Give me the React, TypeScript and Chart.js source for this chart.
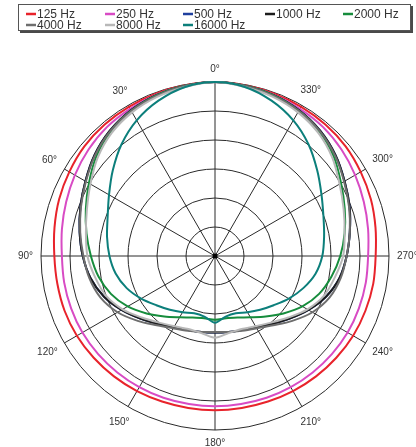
import React, { useEffect, useRef } from 'react';
import { Chart, registerables } from 'chart.js';

Chart.register(...registerables);

// Measurement angles (degrees, counter-clockwise from the top, as labelled)
const ANGLES = [0, 10, 20, 30, 40, 50, 60, 70, 80, 90, 100, 110, 120, 130, 140, 150, 160, 170,
  180, 190, 200, 210, 220, 230, 240, 250, 260, 270, 280, 290, 300, 310, 320, 330, 340, 350];

const SERIES_NAMES = ['125 Hz', '250 Hz', '500 Hz', '1000 Hz', '2000 Hz', '4000 Hz', '8000 Hz', '16000 Hz'];

// Levels in dB relative to on-axis (0 dB = outer ring, -30 dB = centre)
const HZ_125 = [0, -0.1, -0.2, -0.3, -0.4, -0.6, -1.0, -1.4, -1.9, -2.3, -2.4, -2.4, -2.5, -2.7, -2.9, -3.1, -3.3, -3.4,
  -3.4, -3.4, -3.3, -3.1, -2.9, -2.7, -2.5, -2.4, -2.3, -2.3, -1.9, -1.4, -1.0, -0.6, -0.4, -0.3, -0.2, -0.1];
const HZ_250 = [0, -0.2, -0.4, -0.7, -1.0, -1.5, -2.1, -2.7, -3.2, -3.6, -3.6, -3.6, -3.6, -3.7, -3.8, -3.9, -4.0, -4.1,
  -4.1, -4.1, -4.0, -3.9, -3.8, -3.7, -3.6, -3.6, -3.6, -3.6, -3.2, -2.7, -2.1, -1.5, -1.0, -0.7, -0.4, -0.2];
const HZ_500 = [0, -0.2, -0.5, -1.0, -1.8, -2.9, -4.2, -5.3, -6.3, -7.2, -8.2, -9.6, -11.4, -13.2, -14.7, -15.8, -16.4, -16.7,
  -16.8, -16.7, -16.4, -15.8, -14.7, -13.2, -11.4, -9.6, -8.2, -7.3, -6.4, -5.3, -4.2, -2.9, -1.8, -1.0, -0.5, -0.2];
const HZ_1000 = [0, -0.2, -0.5, -1.0, -1.8, -2.9, -4.2, -5.3, -6.3, -7.2, -8.2, -9.6, -11.4, -13.2, -14.7, -15.8, -16.4, -16.7,
  -16.8, -16.7, -16.4, -15.8, -14.7, -13.2, -11.4, -9.6, -8.2, -7.3, -6.4, -5.3, -4.2, -2.9, -1.8, -1.0, -0.5, -0.2];
const HZ_2000 = [0, -0.2, -0.5, -1.1, -2.0, -3.3, -4.9, -6.3, -7.5, -8.6, -9.6, -10.9, -12.6, -14.6, -16.4, -17.8, -18.7, -19.1,
  -19.0, -19.1, -18.7, -17.8, -16.4, -14.6, -12.6, -10.9, -9.6, -8.4, -7.3, -6.2, -4.9, -3.3, -2.0, -1.1, -0.5, -0.2];
const HZ_4000 = [0, -0.2, -0.6, -1.1, -1.9, -3.0, -4.3, -5.4, -6.4, -7.3, -8.0, -9.0, -10.6, -12.6, -14.4, -15.6, -16.3, -16.7,
  -16.9, -16.7, -16.3, -15.6, -14.4, -12.6, -10.6, -9.0, -8.0, -7.3, -6.4, -5.4, -4.3, -3.0, -1.9, -1.1, -0.6, -0.2];
const HZ_8000 = [0, -0.4, -0.8, -1.4, -2.3, -3.6, -5.2, -6.5, -7.4, -8.0, -9.0, -10.0, -11.6, -13.5, -15.0, -16.0, -16.6, -16.5,
  -15.9, -16.5, -16.6, -16.0, -15.0, -13.5, -11.6, -10.0, -9.0, -7.9, -7.3, -6.4, -5.2, -3.6, -2.3, -1.4, -0.8, -0.4];
const HZ_16000 = [0, -0.4, -1.5, -3.0, -4.9, -7.0, -8.9, -10.3, -11.1, -11.8, -12.6, -13.8, -15.3, -16.8, -17.9, -18.8, -19.5, -19.4,
  -18.5, -19.4, -19.5, -18.8, -17.9, -16.8, -15.3, -13.8, -12.4, -11.5, -10.9, -10.1, -8.8, -7.0, -4.9, -3.0, -1.5, -0.4];

const SERIES_VALUES = [HZ_125, HZ_250, HZ_500, HZ_1000, HZ_2000, HZ_4000, HZ_8000, HZ_16000];
const SERIES_COLORS = ['#e8232b', '#d84bc4', '#1f3f9e', '#1c1c1c', '#168c3c', '#6e6e6e', '#b8b8b8', '#0c7f7b'];

const SCALE_MIN = -30;
const SCALE_MAX = 0;
const SCALE_STEP = 5;
const LABEL_EVERY = 30;

// Chart.js radar runs clockwise; the reference labels run counter-clockwise.
const N = ANGLES.length;
const DISPLAY_ANGLES = ANGLES.map((_, i) => ANGLES[(N - i) % N]);
const toDisplay = (vals: number[]) => ANGLES.map((_, i) => vals[(N - i) % N]);
const LABELS = DISPLAY_ANGLES.map((a) => (a % LABEL_EVERY === 0 ? `${a}°` : ''));

const FONT = '"Liberation Sans", Arial, Helvetica, sans-serif';

const legendPlugin = {
  id: 'boxLegend',
  afterDraw(chart: any) {
    const ctx = chart.ctx as CanvasRenderingContext2D;
    ctx.save();
    const bx = 18, by = 4, bw = 393, bh = 27;
    ctx.fillStyle = '#4a4a4a';
    ctx.fillRect(bx + 2, by + 2, bw, bh);
    ctx.fillStyle = '#ffffff';
    ctx.fillRect(bx, by, bw, bh);
    ctx.strokeStyle = '#555';
    ctx.lineWidth = 1;
    ctx.strokeRect(bx + 0.5, by + 0.5, bw - 1, bh - 1);
    const cols = [26, 105, 183, 265, 343];
    const rows = [14, 25];
    ctx.font = `12px ${FONT}`;
    ctx.textBaseline = 'middle';
    ctx.textAlign = 'left';
    SERIES_NAMES.forEach((name, i) => {
      const x = cols[i % 5];
      const y = rows[Math.floor(i / 5)];
      ctx.strokeStyle = SERIES_COLORS[i];
      ctx.lineWidth = 2.5;
      ctx.beginPath();
      ctx.moveTo(x, y);
      ctx.lineTo(x + 10, y);
      ctx.stroke();
      ctx.fillStyle = '#333';
      ctx.fillText(name, x + 11, y + 0.5);
    });
    ctx.restore();
  },
};

const angleLabelPlugin = {
  id: 'angleLabels',
  afterDraw(chart: any) {
    const scale = chart.scales.r;
    const ctx = chart.ctx as CanvasRenderingContext2D;
    ctx.save();
    ctx.font = `10px ${FONT}`;
    ctx.fillStyle = '#333';
    ctx.textAlign = 'center';
    ctx.textBaseline = 'middle';
    const R = scale.drawingArea;
    DISPLAY_ANGLES.forEach((a, i) => {
      if (a % LABEL_EVERY !== 0) return;
      const text = `${a}°`;
      const w = ctx.measureText(text).width;
      const t = (a * Math.PI) / 180;
      const d = R + 8 + (w / 2) * Math.abs(Math.sin(t)) + 5 * Math.abs(Math.cos(t));
      const p = scale.getPointPosition(i, d);
      ctx.fillText(text, p.x, p.y);
    });
    ctx.beginPath();
    ctx.arc(scale.xCenter, scale.yCenter, 2.5, 0, Math.PI * 2);
    ctx.fillStyle = '#000';
    ctx.fill();
    ctx.restore();
  },
};

export default function App() {
  const ref = useRef<HTMLCanvasElement | null>(null);

  useEffect(() => {
    if (!ref.current) return;
    const datasets = SERIES_NAMES.map((name, i) => ({
      label: name,
      data: toDisplay(SERIES_VALUES[i]),
      borderColor: SERIES_COLORS[i],
      backgroundColor: 'transparent',
      borderWidth: 2,
      fill: false,
      pointRadius: 0,
      tension: 0.3,
      order: SERIES_NAMES.length - 1 - i,
    }));
    const chart = new Chart(ref.current, {
      type: 'radar',
      data: { labels: LABELS, datasets },
      options: {
        animation: false,
        responsive: false,
        maintainAspectRatio: false,
        layout: { padding: { left: 41, right: 27, top: 82, bottom: 17 } },
        plugins: { legend: { display: false }, tooltip: { enabled: false } },
        scales: {
          r: {
            min: SCALE_MIN,
            max: SCALE_MAX,
            ticks: { display: false, stepSize: SCALE_STEP },
            grid: { circular: true, color: '#2a2a2a', lineWidth: 1 },
            angleLines: {
              color: '#2a2a2a',
              lineWidth: (c: any) => (DISPLAY_ANGLES[c.index] % LABEL_EVERY === 0 ? 1 : 0),
            },
            pointLabels: { display: false },
          },
        },
      } as any,
      plugins: [legendPlugin, angleLabelPlugin],
    });
    return () => chart.destroy();
  }, []);

  return (
    <div style={{ position: 'fixed', left: 0, top: 0, width: 416, height: 447, background: '#fff' }}>
      <canvas ref={ref} width={416} height={447} style={{ display: 'block' }} />
    </div>
  );
}
